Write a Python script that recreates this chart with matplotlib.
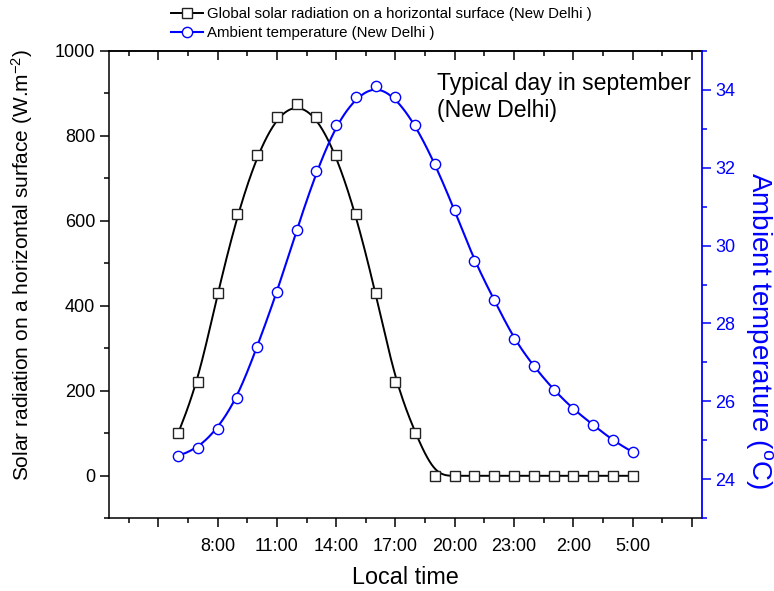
import numpy as np
import matplotlib
matplotlib.use('Agg')
import matplotlib.pyplot as plt
from matplotlib.ticker import FixedLocator, MultipleLocator, NullFormatter
from matplotlib.lines import Line2D

plt.rcParams['font.family'] = ['Liberation Sans', 'DejaVu Sans']
plt.rcParams['mathtext.fontset'] = 'custom'
plt.rcParams['mathtext.rm'] = 'Liberation Sans'
plt.rcParams['mathtext.it'] = 'Liberation Sans'

# ---- data ----
hours = list(range(6, 30))  # 6:00 ... 5:00 next day
radiation = [100, 220, 430, 615, 755, 845, 875, 845, 755, 615, 430, 220, 100,
             0, 0, 0, 0, 0, 0, 0, 0, 0, 0, 0]
temperature = [24.6, 24.8, 25.3, 26.1, 27.4, 28.8, 30.4, 31.9, 33.1, 33.8, 34.1,
               33.8, 33.1, 32.1, 30.9, 29.6, 28.6, 27.6, 26.9, 26.3, 25.8, 25.4,
               25.0, 24.7]
major_hours = [5, 8, 11, 14, 17, 20, 23, 26, 29, 32]
major_labels = ['', '8:00', '11:00', '14:00', '17:00', '20:00', '23:00', '2:00', '5:00', '']
rad_label = 'Global solar radiation on a horizontal surface (New Delhi )'
temp_label = 'Ambient temperature (New Delhi )'


def bspline(x, y, n=30):
    """Uniform cubic B-spline using the data points as control points (clamped ends)."""
    P = np.column_stack([x, y]).astype(float)
    P = np.vstack([P[0], P[0], P, P[-1], P[-1]])
    t = np.linspace(0, 1, n)
    b0 = (1 - t) ** 3 / 6
    b1 = (3 * t ** 3 - 6 * t ** 2 + 4) / 6
    b2 = (-3 * t ** 3 + 3 * t ** 2 + 3 * t + 1) / 6
    b3 = t ** 3 / 6
    out = []
    for i in range(len(P) - 3):
        seg = (np.outer(b0, P[i]) + np.outer(b1, P[i + 1]) +
               np.outer(b2, P[i + 2]) + np.outer(b3, P[i + 3]))
        out.append(seg)
    out = np.vstack(out)
    return out[:, 0], out[:, 1]


W, H = 774, 591
fig = plt.figure(figsize=(W / 100, H / 100), dpi=100)
L, R, B, T = 109 / W, 701.7 / W, 1 - 518.3 / H, 1 - 50.7 / H
ax = fig.add_axes([L, B, R - L, T - B])
ax2 = ax.twinx()

blue = '#0000ff'

# black radiation
sx, sy = bspline(hours, radiation)
ax.plot(sx, sy, color='black', lw=1.4, zorder=2)
ax.plot(hours, radiation, ls='none', marker='s', ms=6.8, mfc='white',
        mec='#222222', mew=1.0, zorder=3)

# blue temperature
tx, ty = bspline(hours, temperature)
ax2.plot(tx, ty, color=blue, lw=1.5, zorder=2)
ax2.plot(hours, temperature, ls='none', marker='o', ms=7.4, mfc='white',
         mec=blue, mew=1.0, zorder=3)

ax.set_xlim(2.5, 32.5)
ax.set_ylim(-100, 1000)
ax2.set_ylim(23, 35)

# x ticks
ax.xaxis.set_major_locator(FixedLocator(major_hours))
ax.set_xticklabels(major_labels)
ax.xaxis.set_minor_locator(FixedLocator(np.arange(3.5, 32.5, 3)))
ax.tick_params(axis='x', which='major', direction='out', length=6.5, width=1.1,
               labelsize=13, pad=8, top=False)
ax.tick_params(axis='x', which='minor', direction='out', length=3.6, width=1.1, top=False)

# top ticks inward
axt = ax.secondary_xaxis('top')
axt.xaxis.set_major_locator(FixedLocator(major_hours))
axt.xaxis.set_minor_locator(FixedLocator(np.arange(3.5, 32.5, 3)))
axt.xaxis.set_major_formatter(NullFormatter())
axt.tick_params(axis='x', which='major', direction='in', length=6.5, width=1.1)
axt.tick_params(axis='x', which='minor', direction='in', length=3.6, width=1.1)
axt.spines['top'].set_linewidth(1.1)

# left y
ax.set_yticks([0, 200, 400, 600, 800, 1000])
ax.yaxis.set_minor_locator(MultipleLocator(100))
ax.tick_params(axis='y', which='major', direction='out', length=6.5, width=1.1,
               labelsize=13, right=False)
ax.tick_params(axis='y', which='minor', direction='out', length=3.6, width=1.1, right=False)

# right y
ax2.set_yticks([24, 26, 28, 30, 32, 34])
ax2.yaxis.set_minor_locator(MultipleLocator(1))
ax2.tick_params(axis='y', which='major', direction='out', length=6.5, width=1.1,
                labelsize=13, colors=blue)
ax2.tick_params(axis='y', which='minor', direction='out', length=3.6, width=1.1, colors=blue)

for a in (ax, ax2):
    for s in a.spines.values():
        s.set_linewidth(1.1)
ax2.spines['right'].set_color(blue)
ax2.spines['right'].set_linewidth(1.3)
ax.spines['right'].set_visible(False)
ax2.spines['left'].set_visible(False)
ax2.spines['top'].set_visible(False)
ax2.spines['bottom'].set_visible(False)

ax.set_xlabel('Local time', fontsize=16.8)
ax.xaxis.set_label_coords(0.5, (518.3 - 577) / 467.6)
ax.xaxis.label.set_va('center')
ax.set_ylabel('Solar radiation on a horizontal surface (W.m$^{-2}$)', fontsize=15)
ax.yaxis.set_label_coords((22 - 109) / 592.7, (518.3 - 265) / 467.6)
ax.yaxis.label.set_va('center')
ax2.set_ylabel('Ambient temperature ($^{\\mathrm{o}}$C)', fontsize=20, color=blue,
               rotation=270)
ax2.yaxis.set_label_coords((760 - 109) / 592.7, (518.3 - 331) / 467.6)
ax2.yaxis.label.set_va('center')

ax.text((437 - 109) / 592.7, (518.3 - 72) / 467.6, 'Typical day in september\n(New Delhi)',
        transform=ax.transAxes, fontsize=16.6, va='top', ha='left', linespacing=1.22)

handles = [Line2D([], [], color='black', lw=1.4, marker='s', ms=6.8, mfc='white', mec='#222222'),
           Line2D([], [], color=blue, lw=1.5, marker='o', ms=7.4, mfc='white', mec=blue)]
fig.legend(handles, [rad_label, temp_label], loc='upper left',
           bbox_to_anchor=(171 / W, 1 - 7 / H), frameon=False, fontsize=10.8,
           handlelength=2.1, handletextpad=0.3, borderpad=0, borderaxespad=0,
           labelspacing=0.35)

fig.savefig('out.png', dpi=100)
